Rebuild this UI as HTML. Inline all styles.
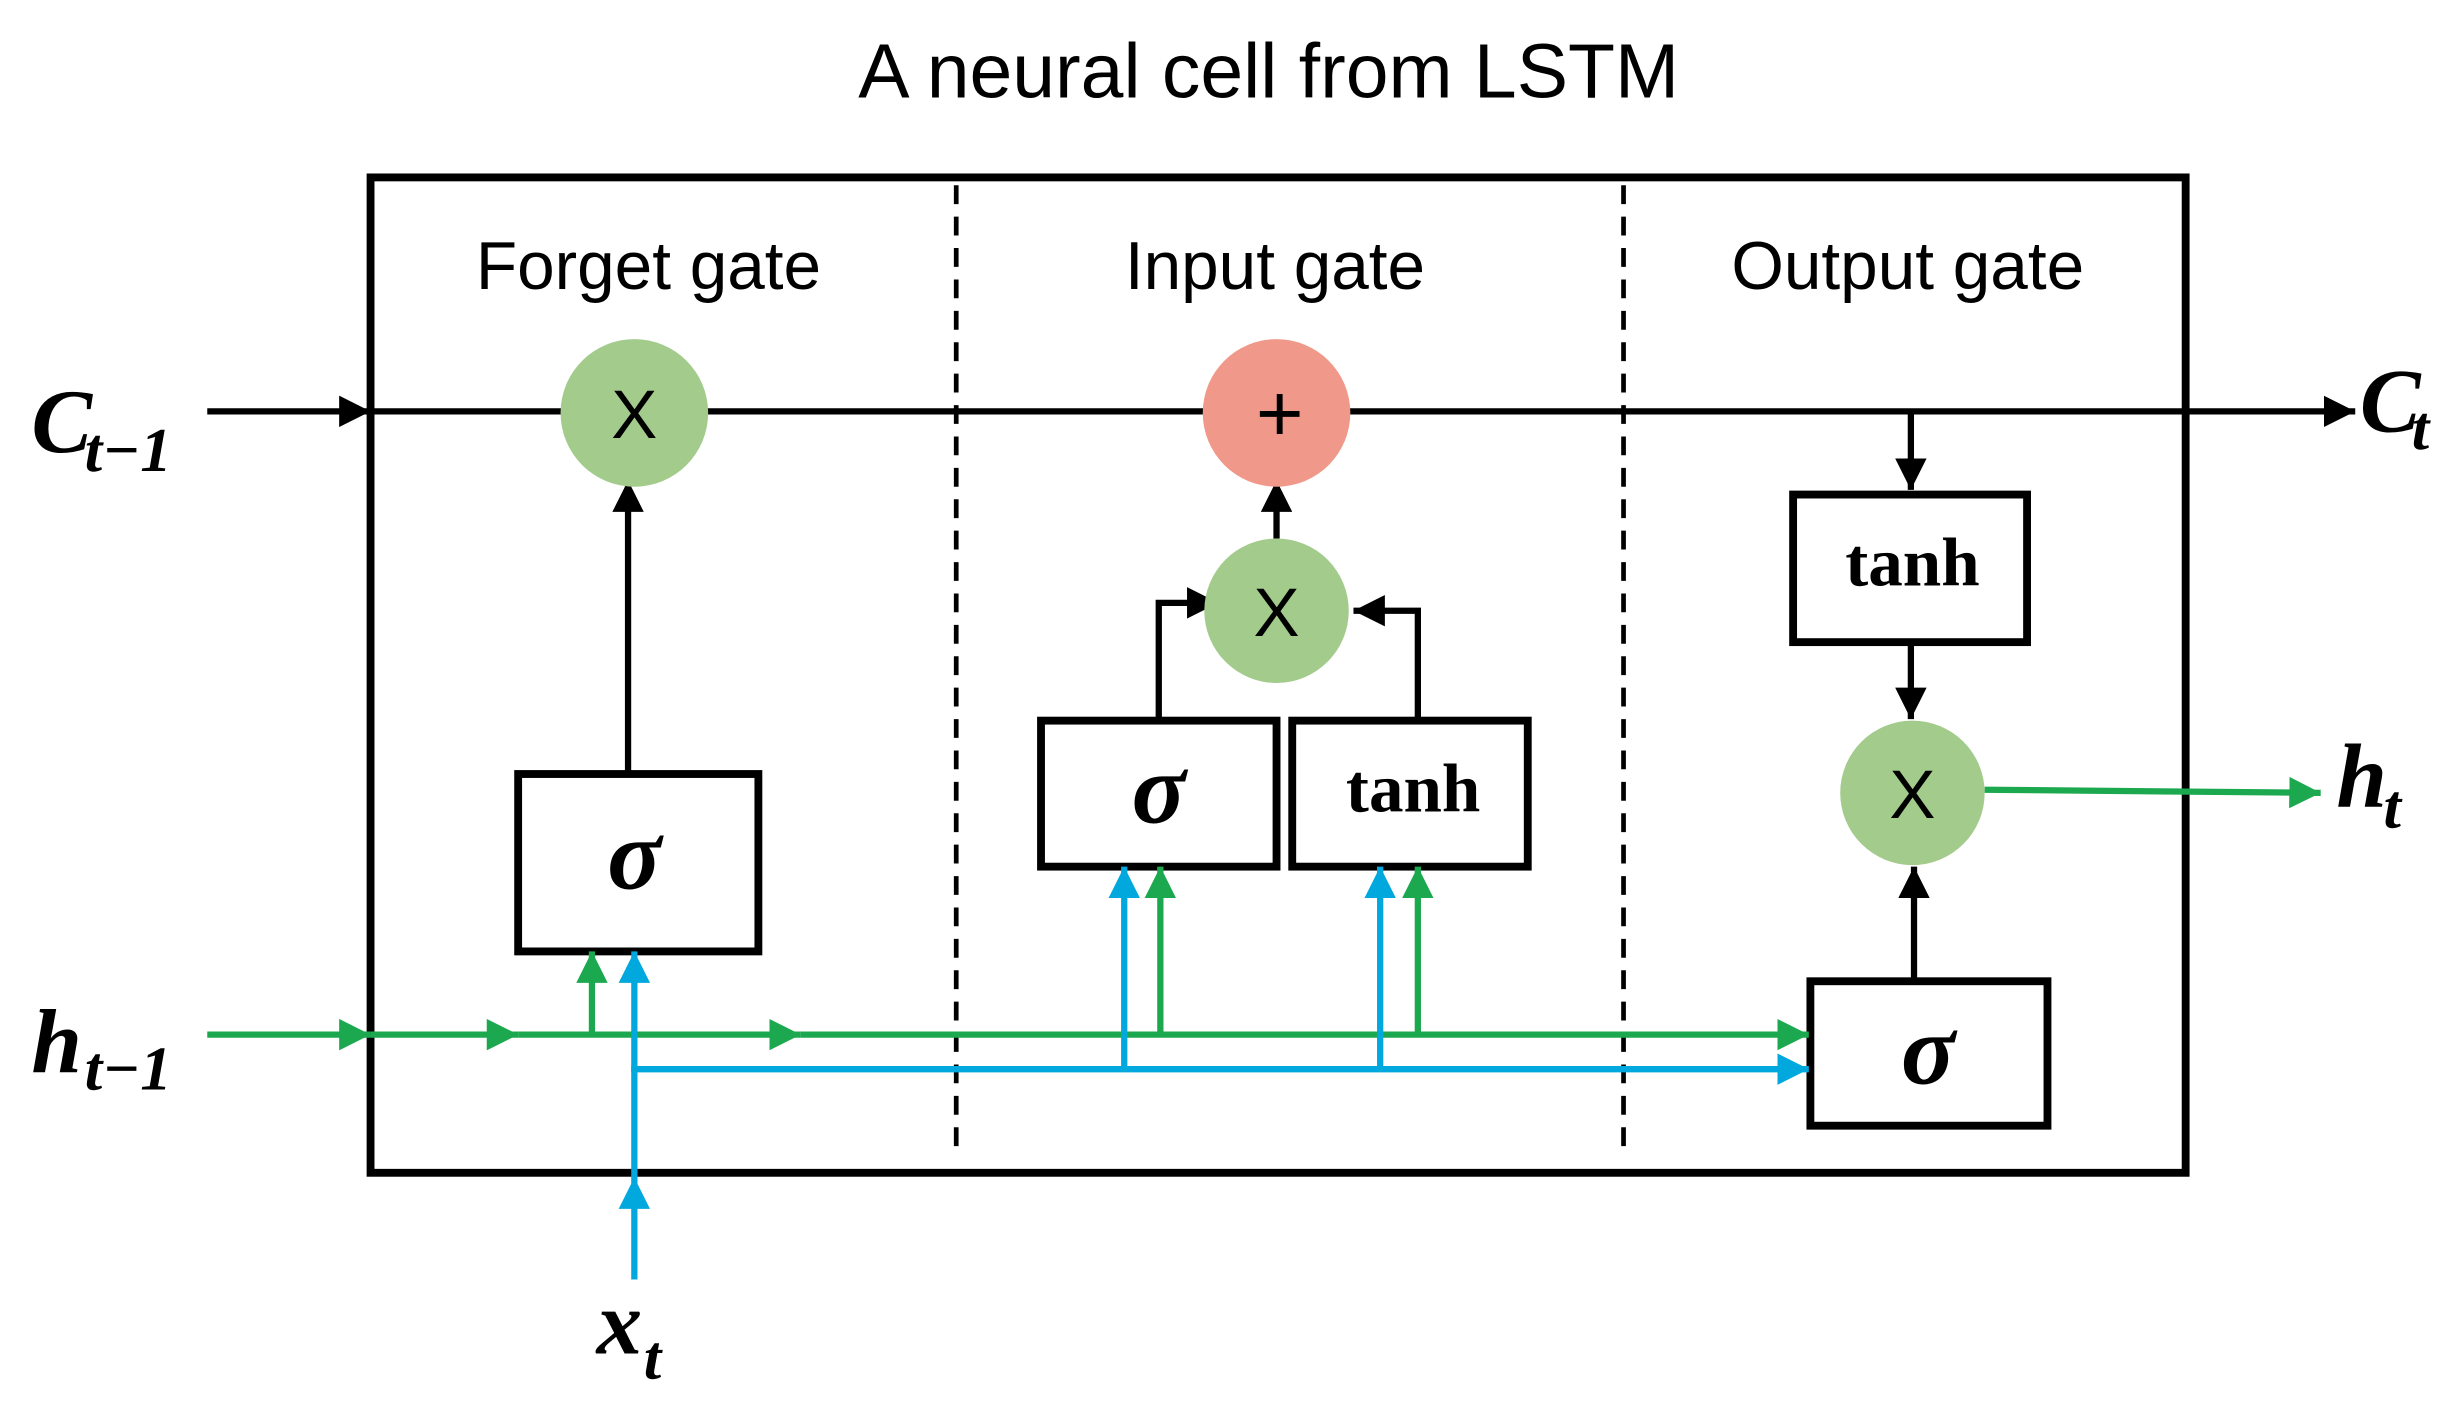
<!DOCTYPE html>
<html><head><meta charset="utf-8"><style>
html,body{margin:0;padding:0;background:#fff;}
svg{display:block;}
</style></head><body>
<svg width="2462" height="1424" viewBox="0 0 1568 907" preserveAspectRatio="none" xmlns="http://www.w3.org/2000/svg">
<defs>
<marker id="ak" viewBox="0 0 10 10" refX="10" refY="5" markerWidth="5" markerHeight="5" orient="auto"><path d="M0,0 L10,5 L0,10 z" fill="#000"/></marker>
<marker id="ag" viewBox="0 0 10 10" refX="10" refY="5" markerWidth="5" markerHeight="5" orient="auto"><path d="M0,0 L10,5 L0,10 z" fill="#1ba84e"/></marker>
<marker id="ab" viewBox="0 0 10 10" refX="10" refY="5" markerWidth="5" markerHeight="5" orient="auto"><path d="M0,0 L10,5 L0,10 z" fill="#00a8de"/></marker>
</defs>
<text x="808" y="62" font-family="Liberation Sans, sans-serif" font-size="49" text-anchor="middle">A neural cell from LSTM</text>
<rect x="236" y="113" width="1156" height="634" fill="none" stroke="#000" stroke-width="5"/>
<line x1="609" y1="118" x2="609" y2="732" stroke="#000" stroke-width="3" stroke-dasharray="12,8"/>
<line x1="1034" y1="118" x2="1034" y2="732" stroke="#000" stroke-width="3" stroke-dasharray="12,8"/>
<g font-family="Liberation Sans, sans-serif" font-size="43" text-anchor="middle">
<text x="413" y="184">Forget gate</text><text x="812" y="184">Input gate</text><text x="1215" y="184">Output gate</text>
</g>
<line x1="132" y1="262" x2="236" y2="262" stroke="#000" stroke-width="4" marker-end="url(#ak)"/>
<line x1="236" y1="262" x2="1500" y2="262" stroke="#000" stroke-width="4" marker-end="url(#ak)"/>
<g font-family="Liberation Serif, serif" font-style="italic" font-weight="bold">
<text x="20" y="288" font-size="58">C</text><text x="54" y="300" font-size="40">t−1</text>
<text x="1503" y="275" font-size="58">C</text><text x="1536" y="286" font-size="40">t</text>
<text x="20" y="683" font-size="58">h</text><text x="54" y="694" font-size="40">t−1</text>
<text x="1488" y="514" font-size="58">h</text><text x="1518" y="527" font-size="40">t</text>
<text x="380" y="862" font-size="58">x</text><text x="410" y="878" font-size="40">t</text>
</g>
<g stroke="#000" stroke-width="4" fill="none">
<line x1="400" y1="493" x2="400" y2="306" marker-end="url(#ak)"/>
<line x1="813" y1="343" x2="813" y2="306" marker-end="url(#ak)"/>
<polyline points="738,459 738,384 776,384" marker-end="url(#ak)"/>
<polyline points="903,459 903,389 862,389" marker-end="url(#ak)"/>
<line x1="1217" y1="262" x2="1217" y2="312" marker-end="url(#ak)"/>
<line x1="1217" y1="409" x2="1217" y2="458" marker-end="url(#ak)"/>
<line x1="1219" y1="625" x2="1219" y2="552" marker-end="url(#ak)"/>
</g>
<g font-family="Liberation Sans, sans-serif" font-size="44" text-anchor="middle">
<circle cx="404" cy="263" r="47" fill="#a3cb8c"/><text x="404" y="279">X</text>
<circle cx="813" cy="263" r="47" fill="#f0998a"/><text x="815" y="281" font-size="52">+</text>
<circle cx="813" cy="389" r="46" fill="#a3cb8c"/><text x="813" y="405">X</text>
<circle cx="1218" cy="505" r="46" fill="#a3cb8c"/><text x="1218" y="521">X</text>
</g>
<g fill="#fff" stroke="#000" stroke-width="5">
<rect x="330" y="493" width="153" height="113"/>
<rect x="663" y="459" width="150" height="93"/>
<rect x="823" y="459" width="150" height="93"/>
<rect x="1142" y="315" width="149" height="94"/>
<rect x="1153" y="625" width="151" height="92"/>
</g>
<g font-family="Liberation Serif, serif" text-anchor="middle" font-weight="bold">
<text x="404" y="566" font-size="64" font-style="italic">σ</text>
<text x="738" y="524" font-size="64" font-style="italic">σ</text>
<text x="900" y="517" font-size="44">tanh</text>
<text x="1218" y="373" font-size="44">tanh</text>
<text x="1228" y="690" font-size="64" font-style="italic">σ</text>
</g>
<g stroke="#1ba84e" stroke-width="4" fill="none">
<line x1="132" y1="659" x2="236" y2="659" marker-end="url(#ag)"/>
<line x1="236" y1="659" x2="330" y2="659" marker-end="url(#ag)"/>
<line x1="330" y1="659" x2="510" y2="659" marker-end="url(#ag)"/>
<line x1="510" y1="659" x2="1152" y2="659" marker-end="url(#ag)"/>
<line x1="377" y1="659" x2="377" y2="606" marker-end="url(#ag)"/>
<line x1="739" y1="659" x2="739" y2="552" marker-end="url(#ag)"/>
<line x1="903" y1="659" x2="903" y2="552" marker-end="url(#ag)"/>
<line x1="1264" y1="503" x2="1478" y2="505" marker-end="url(#ag)"/>
</g>
<g stroke="#00a8de" stroke-width="4" fill="none">
<line x1="404" y1="815" x2="404" y2="750" marker-end="url(#ab)"/>
<line x1="404" y1="750" x2="404" y2="606" marker-end="url(#ab)"/>
<line x1="402" y1="681" x2="1152" y2="681" marker-end="url(#ab)"/>
<line x1="716" y1="681" x2="716" y2="552" marker-end="url(#ab)"/>
<line x1="879" y1="681" x2="879" y2="552" marker-end="url(#ab)"/>
</g>
</svg>
</body></html>
